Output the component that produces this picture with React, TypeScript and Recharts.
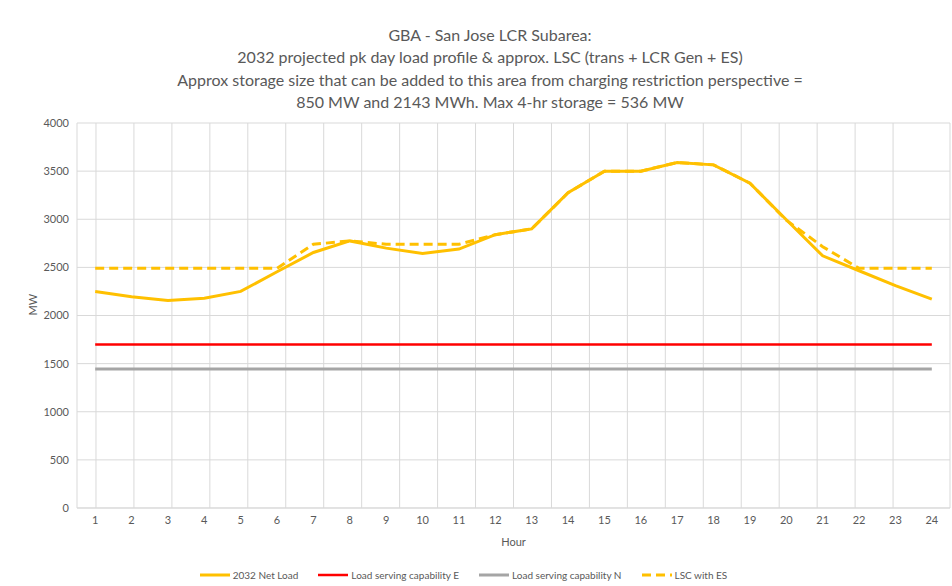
import { LineChart, Line, XAxis, YAxis, CartesianGrid, Legend } from "recharts"

// hourly profile (MW)
const hours = [1, 2, 3, 4, 5, 6, 7, 8, 9, 10, 11, 12, 13, 14, 15, 16, 17, 18, 19, 20, 21, 22, 23, 24]
const netLoad = [2250, 2195, 2155, 2180, 2250, 2455, 2655, 2775, 2700, 2645, 2690, 2840, 2900, 3275, 3500, 3500, 3590, 3565, 3375, 2995, 2620, 2465, 2310, 2170]
const lscWithEs = [2490, 2490, 2490, 2490, 2490, 2490, 2740, 2775, 2740, 2740, 2740, 2840, 2900, 3275, 3500, 3500, 3590, 3565, 3375, 2990, 2715, 2490, 2490, 2490]
const capabilityE = 1700
const capabilityN = 1445
const yTicks = [0, 500, 1000, 1500, 2000, 2500, 3000, 3500, 4000]
const titleLines = [
  "GBA - San Jose LCR Subarea:",
  "2032 projected pk day load profile & approx. LSC (trans + LCR Gen + ES)",
  "Approx storage size that can be added to this area from charging restriction perspective =",
  "850 MW and 2143 MWh. Max 4-hr storage = 536 MW",
]

const series = [
  { key: "net", name: "2032 Net Load", color: "#FFC000", width: 3, dash: undefined },
  { key: "capE", name: "Load serving capability E", color: "#FF0000", width: 2.5, dash: undefined },
  { key: "capN", name: "Load serving capability N", color: "#A5A5A5", width: 3, dash: undefined },
  { key: "lsc", name: "LSC with ES", color: "#FFC000", width: 3, dash: "9 5" },
]

const data = hours.map((h, i) => ({
  hour: h,
  net: netLoad[i],
  capE: capabilityE,
  capN: capabilityN,
  lsc: lscWithEs[i],
}))

// gridlines sit between the hours, like Excel
const gridTicks = [...hours.map(h => h - 0.5), hours[hours.length - 1] + 0.5]

const textColor = "#595959"
const font = "Lato, 'Open Sans', sans-serif"

function LegendContent() {
  // fixed order, same as the source legend
  return (
    <div
      style={{
        display: "flex",
        justifyContent: "center",
        gap: 20,
        fontSize: 10,
        color: textColor,
        fontFamily: font,
        paddingRight: 50,
        paddingTop: 7,
      }}
    >
      {series.map(s => (
        <div key={s.key} style={{ display: "flex", alignItems: "center", gap: 3 }}>
          <svg width={30} height={6}>
            <line x1={0} y1={3} x2={30} y2={3} stroke={s.color} strokeWidth={s.width} strokeDasharray={s.dash} />
          </svg>
          <span>{s.name}</span>
        </div>
      ))}
    </div>
  )
}

export default function App() {
  return (
    <div style={{ position: "absolute", left: 0, top: 0, width: 952, height: 586, background: "#fff" }}>
      <div
        style={{
          position: "absolute",
          left: 0,
          top: 24,
          width: 980,
          textAlign: "center",
          fontFamily: font,
          fontSize: 16,
          lineHeight: "22.3px",
          color: textColor,
        }}
      >
        {titleLines.map(t => (
          <div key={t}>{t}</div>
        ))}
      </div>
      <LineChart
        width={952}
        height={586}
        data={data}
        margin={{ top: 123, right: 2, left: 27, bottom: 0 }}
        style={{ position: "absolute", left: 0, top: 0 }}
      >
        <CartesianGrid xAxisId="grid" stroke="#d9d9d9" strokeWidth={1} />
        <XAxis
          xAxisId="grid"
          type="number"
          domain={[0.5, 24.5]}
          ticks={gridTicks}
          allowDataOverflow
          hide
        />
        <XAxis
          dataKey="hour"
          type="number"
          domain={[0.5, 24.5]}
          ticks={hours}
          interval={0}
          allowDataOverflow
          height={54}
          tickLine={false}
          axisLine={{ stroke: "#d9d9d9" }}
          tick={{ fill: textColor, fontSize: 11, fontFamily: font }}
          label={{ value: "Hour", position: "insideBottom", offset: 16, fill: textColor, fontSize: 11, fontFamily: font }}
        />
        <YAxis
          domain={[0, 4000]}
          ticks={yTicks}
          width={50}
          axisLine={false}
          tickLine={false}
          tick={{ fill: textColor, fontSize: 11, fontFamily: font }}
          label={{ value: "MW", angle: -90, position: "insideLeft", offset: 6, fill: textColor, fontSize: 11, fontFamily: font }}
        />
        <Legend verticalAlign="bottom" height={24} content={<LegendContent />} />
        {series.map(s => (
          <Line
            key={s.key}
            dataKey={s.key}
            name={s.name}
            stroke={s.color}
            strokeWidth={s.width}
            strokeDasharray={s.dash}
            dot={false}
            isAnimationActive={false}
          />
        ))}
      </LineChart>
    </div>
  )
}
